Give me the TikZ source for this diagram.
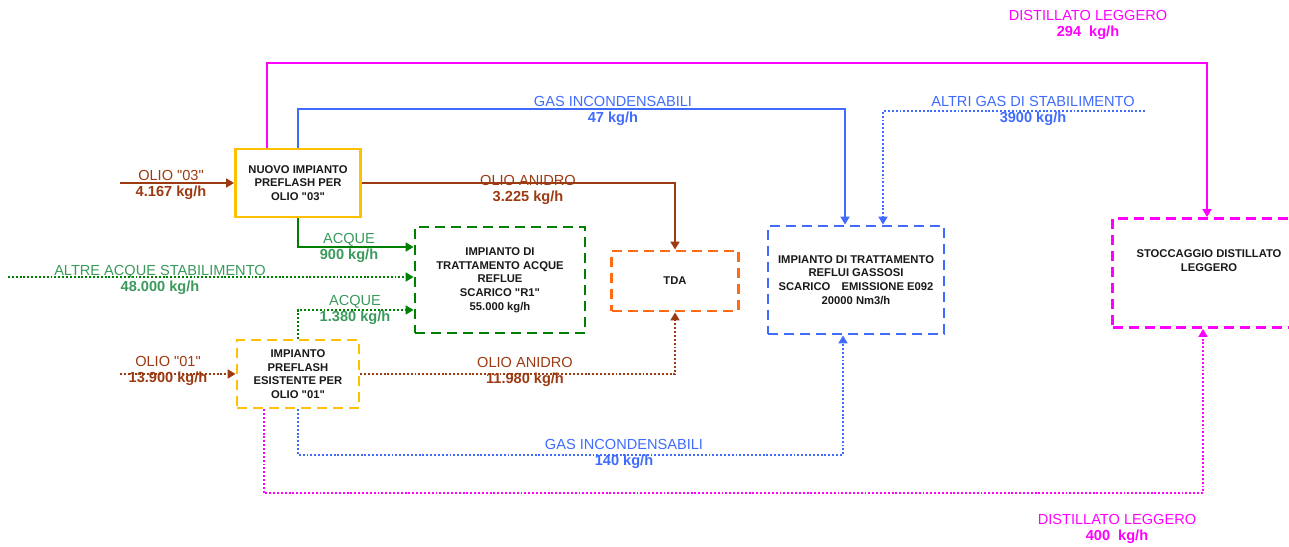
\documentclass[tikz,border=0pt]{standalone}
\usepackage{fontspec}
\setmainfont{Liberation Sans}[Ligatures=TeXOff]
\usetikzlibrary{arrows.meta}

\definecolor{mag}{HTML}{FF00FF}
\definecolor{blu}{HTML}{3F6BFF}
\definecolor{brn}{HTML}{9C3A12}
\definecolor{grn}{HTML}{008000}
\definecolor{grntxt}{HTML}{3A9A5C}
\definecolor{org}{HTML}{FF6A13}
\definecolor{yel}{HTML}{FFC000}

\tikzset{
  box/.style={draw, line width=1.6pt, inner sep=0pt, align=center, text=black!90,
    font=\fontsize{6.4}{7.8}\selectfont\bfseries},
  dbox/.style={box, dash pattern=on 5.7pt off 3.4pt},
  flow/.style={line width=1.3pt, -{Triangle[length=4.5pt,width=5pt]}},
  dflow/.style={flow, line width=1.5pt, dash pattern=on 1.1pt off 1.1pt},
  lbl/.style={align=center, inner sep=0pt, font=\fontsize{8.3}{9}\selectfont}
}

\begin{document}
\begin{tikzpicture}[x=0.02cm, y=-0.02cm]
  \useasboundingbox (0,0) rectangle (1289,547);

  %% impianti
  \node[box, draw=yel, minimum width=2.5cm, minimum height=1.36cm] (n03) at (298,183)
    {NUOVO IMPIANTO\\PREFLASH PER\\OLIO "03"};
  \node[dbox, draw=yel, minimum width=2.44cm, minimum height=1.36cm] (e01) at (298,374)
    {IMPIANTO\\PREFLASH\\ESISTENTE PER\\OLIO "01"};
  \node[dbox, draw=grn, minimum width=3.4cm, minimum height=2.12cm] (r1) at (500,280)
    {IMPIANTO DI\\TRATTAMENTO ACQUE\\REFLUE\\SCARICO "R1"\\55.000 kg/h};
  \node[dbox, draw=org, minimum width=2.54cm, minimum height=1.2cm] (tda) at (675,281) {TDA};
  \node[dbox, draw=blu, minimum width=3.52cm, minimum height=2.16cm] (gas) at (856,280)
    {IMPIANTO DI TRATTAMENTO\\REFLUI GASSOSI\\SCARICO\quad EMISSIONE E092\\20000 Nm3/h};
  \node[dbox, draw=mag, minimum width=3.86cm, minimum height=2.18cm] (stoc) at (1209,273)
    {STOCCAGGIO DISTILLATO\\LEGGERO\\[6pt]};

  %% punti di passaggio
  \coordinate (in03) at (120,183);
  \coordinate (in01) at (120,374);
  \coordinate (mg1) at (267,63);
  \coordinate (mg2) at (1207,63);
  \coordinate (bl2) at (845,109);
  \coordinate (ag1) at (1145,111);
  \coordinate (ag2) at (883,111);
  \coordinate (gr1) at (298,247);
  \coordinate (aa) at (8,277);
  \coordinate (gr2) at (298,310);
  \coordinate (bl4) at (843,455);
  \coordinate (mg3) at (264,493);
  \coordinate (mg4) at (1203,493);

  %% linea nuovo impianto
  \draw[flow, brn] (in03) -- (n03.west);
  \draw[flow, mag] (n03.north -| mg1) -- (mg1) -- (mg2) -- (mg2 |- stoc.north);
  \draw[flow, blu] (n03.north) |- (bl2) -- (bl2 |- gas.north);
  \draw[flow, brn] (n03.east) -| (tda.north);
  \draw[flow, grn, line width=1.7pt] (n03.south) |- (gr1 -| r1.west);

  %% altre acque / altri gas
  \draw[dflow, grn] (aa) -- (aa -| r1.west);
  \draw[dflow, blu] (ag1) -- (ag2) -- (ag2 |- gas.north);

  %% linea esistente
  \draw[dflow, brn] (in01) -- (e01.west);
  \draw[dflow, grn] (e01.north) |- (gr2 -| r1.west);
  \draw[dflow, brn] (e01.east) -| (tda.south);
  \draw[dflow, blu] (e01.south) |- (bl4) -- (bl4 |- gas.south);
  \draw[dflow, mag] (e01.south -| mg3) -- (mg3) -- (mg4) -- (mg4 |- stoc.south);

  %% etichette
  \node[lbl, text=brn] (l03) at (171,185) {OLIO "03"\\\textbf{4.167 kg/h}};
  \node[lbl, text=brn] (l01) at (168,371) {OLIO "01"\\\textbf{13.900 kg/h}};
  \node[lbl, text=mag] (ld1) at (1088,25) {DISTILLATO LEGGERO\\\textbf{294\ \ kg/h}};
  \node[lbl, text=mag] (ld2) at (1117,529) {DISTILLATO LEGGERO\\\textbf{400\ \ kg/h}};
  \node[lbl, text=blu] (lg1) at (613,111) {GAS INCONDENSABILI\\\textbf{47 kg/h}};
  \node[lbl, text=blu] (lg2) at (1033,111) {ALTRI GAS DI STABILIMENTO\\\textbf{3900 kg/h}};
  \node[lbl, text=blu] (lg3) at (624,454) {GAS INCONDENSABILI\\\textbf{140 kg/h}};
  \node[lbl, text=brn] (la1) at (528,190) {OLIO ANIDRO\\\textbf{3.225 kg/h}};
  \node[lbl, text=brn] (la2) at (525,372) {OLIO ANIDRO\\\textbf{11.980 kg/h}};
  \node[lbl, text=grntxt] (lw1) at (349,248) {ACQUE\\\textbf{900 kg/h}};
  \node[lbl, text=grntxt] (lw2) at (355,310) {ACQUE\\\textbf{1.380 kg/h}};
  \node[lbl, text=grntxt] (lw3) at (160,280) {ALTRE ACQUE STABILIMENTO\\\textbf{48.000 kg/h}};
\end{tikzpicture}
\end{document}
